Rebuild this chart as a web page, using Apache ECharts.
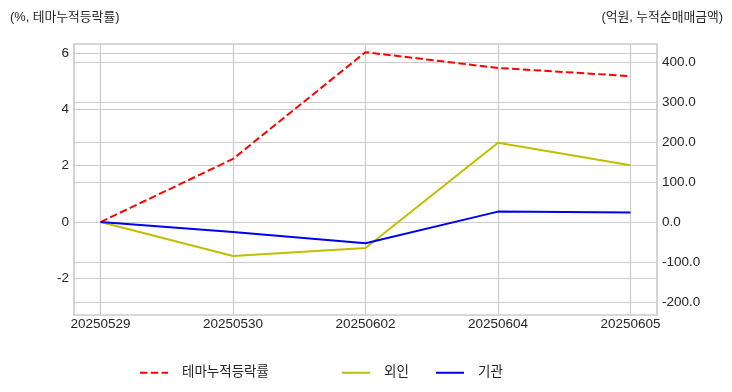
<!DOCTYPE html>
<html><head><meta charset="utf-8">
<script src="https://cdn.jsdelivr.net/npm/echarts@6/dist/echarts.min.js"></script>
<style>html,body{margin:0;padding:0;background:#fff}#c{width:732px;height:392px}</style>
</head><body><div id="c"></div>
<script>
const categories = ['20250529','20250530','20250602','20250604','20250605'];
const themeReturn = [0, 2.24, 6.03, 5.47, 5.18];
const foreign = [0, -85, -65, 198, 142];
const institution = [0, -25, -53, 26, 24];
const leftTicks = [-2, 0, 2, 4, 6];
const rightTicks = [-200, -100, 0, 100, 200, 300, 400];
const xTicks = [0, 1, 2, 3, 4];

const FONT = "'Liberation Sans', 'Noto Sans CJK KR', sans-serif";
const GRID = '#cccccc';
const TXT = '#262626';
const pts = arr => arr.map((v, i) => [i, v]);
const legendText = {fontSize: 13.5, color: TXT, fontFamily: FONT, padding: [0, 0, 0, 9]};

const chart = echarts.init(document.getElementById('c'));
chart.setOption({
  animation: false,
  textStyle: {fontFamily: FONT},
  grid: {left: 74, right: 75, top: 44, bottom: 77, show: true, borderColor: GRID, borderWidth: 1.7},
  title: [
    {text: '(%, 테마누적등락률)', left: 5, top: 6, textStyle: {fontSize: 12.8, fontWeight: 'normal', color: TXT, fontFamily: FONT}},
    {text: '(억원, 누적순매매금액)', right: 4, top: 6, textStyle: {fontSize: 12.8, fontWeight: 'normal', color: TXT, fontFamily: FONT}}
  ],
  legend: [
    {left: 134, top: 361, itemWidth: 28, itemHeight: 14, itemStyle: {opacity: 0}, data: ['테마누적등락률'], textStyle: legendText},
    {left: 336, top: 361, itemWidth: 28, itemHeight: 14, itemStyle: {opacity: 0}, data: ['외인'], textStyle: legendText},
    {left: 430, top: 361, itemWidth: 28, itemHeight: 14, itemStyle: {opacity: 0}, data: ['기관'], textStyle: legendText}
  ],
  xAxis: {
    type: 'value', min: -0.2, max: 4.2,
    axisLine: {show: false},
    axisTick: {show: false, customValues: xTicks},
    axisLabel: {customValues: xTicks, formatter: v => categories[Math.round(v)], fontSize: 13.5, color: TXT, margin: 3},
    splitLine: {show: true, lineStyle: {color: GRID, width: 1.2}}
  },
  yAxis: [
    {
      type: 'value', min: -3.3, max: 6.32, position: 'left',
      axisLine: {show: false},
      axisTick: {show: false, customValues: leftTicks},
      axisLabel: {customValues: leftTicks, fontSize: 13.5, color: TXT, margin: 5},
      splitLine: {show: true, lineStyle: {color: GRID, width: 1.2}}
    },
    {
      type: 'value', min: -232.5, max: 445, position: 'right',
      axisLine: {show: false},
      axisTick: {show: false, customValues: rightTicks},
      axisLabel: {customValues: rightTicks, formatter: v => v.toFixed(1), fontSize: 13.5, color: TXT, margin: 5},
      splitLine: {show: true, lineStyle: {color: GRID, width: 1.2}}
    }
  ],
  series: [
    {name: '테마누적등락률', type: 'line', yAxisIndex: 0, data: pts(themeReturn), showSymbol: false, symbol: 'none',
     lineStyle: {color: '#ff0000', width: 2, type: [7.5, 3.3]}, itemStyle: {color: '#ff0000'}},
    {name: '외인', type: 'line', yAxisIndex: 1, data: pts(foreign), showSymbol: false, symbol: 'none',
     lineStyle: {color: '#bfbf00', width: 2}, itemStyle: {color: '#bfbf00'}},
    {name: '기관', type: 'line', yAxisIndex: 1, data: pts(institution), showSymbol: false, symbol: 'none',
     lineStyle: {color: '#0000ee', width: 2}, itemStyle: {color: '#0000ee'}}
  ]
});
</script></body></html>
